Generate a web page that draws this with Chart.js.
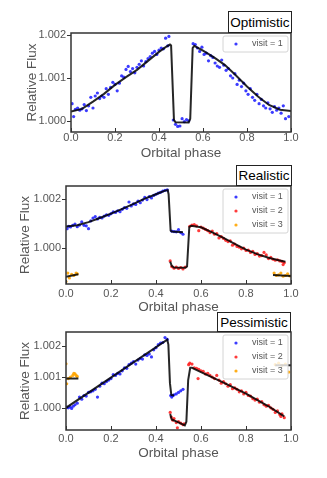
<!DOCTYPE html>
<html>
<head>
<meta charset="utf-8">
<script src="https://cdn.jsdelivr.net/npm/chart.js@4/dist/chart.umd.min.js"></script>
<style>
  body { margin: 0; background: #fff; }
  #wrap { position: relative; width: 327px; height: 478px; overflow: hidden; }
  canvas { position: absolute; left: 0; }
  .tag {
    position: absolute; box-sizing: border-box; border: 1px solid #222; background: #fff;
    font: 13.5px "Liberation Sans", Arial, sans-serif; color: #000;
    display: flex; align-items: center; justify-content: center; z-index: 2;
  }
</style>
</head>
<body>
<div id="wrap">
  <canvas id="opt" width="327" height="165" style="top:0px"></canvas>
  <canvas id="real" width="327" height="158" style="top:160px"></canvas>
  <canvas id="pess" width="327" height="160" style="top:310px"></canvas>
  <div class="tag" style="left:228px;top:11px;width:64px;height:22px">Optimistic</div>
  <div class="tag" style="left:236px;top:165px;width:56px;height:21px">Realistic</div>
  <div class="tag" style="left:217px;top:312px;width:74px;height:20px">Pessimistic</div>
</div>
<script>
const FONT = '"Liberation Sans", Arial, sans-serif';
const phaseTicks = [0, 0.2, 0.4, 0.6, 0.8, 1.0];
const optFluxTicks = [1.000, 1.001, 1.002];
const realFluxTicks = [1.000, 1.002];
const pessFluxTicks = [1.000, 1.001, 1.002];
const visitLabels = ['visit = 1', 'visit = 2', 'visit = 3'];

// Optimistic
const optPhase1 = [0.005,0.012,0.02,0.03,0.04,0.05,0.06,0.07,0.08,0.09,0.10,0.11,0.12,0.13,0.14,0.15,0.16,0.17,0.18,0.19,0.20,0.21,0.22,0.23,0.24,0.25,0.26,0.27,0.28,0.29,0.30,0.31,0.32,0.33,0.34,0.35,0.36,0.37,0.38,0.39,0.40,0.41,0.42,0.43,0.44,0.445,0.465,0.475,0.485,0.495,0.505,0.515,0.525,0.535,0.555,0.565,0.575,0.585,0.595,0.605,0.615,0.625,0.635,0.645,0.655,0.665,0.675,0.685,0.695,0.705,0.715,0.725,0.735,0.745,0.755,0.765,0.775,0.785,0.795,0.805,0.815,0.825,0.835,0.845,0.855,0.865,0.875,0.885,0.895,0.905,0.915,0.925,0.935,0.945,0.955,0.965,0.975,0.99];
const optFlux1 = [1.00040,1.00010,1.00027,1.00030,1.00025,1.00028,1.00038,1.00024,1.00035,1.00055,1.00030,1.00058,1.00065,1.00052,1.00058,1.00055,1.00075,1.00062,1.00078,1.00090,1.00085,1.00070,1.00088,1.00105,1.00102,1.00120,1.00127,1.00115,1.00122,1.00112,1.00125,1.00132,1.00140,1.00128,1.00138,1.00145,1.00150,1.00158,1.00162,1.00155,1.00165,1.00170,1.00168,1.00193,1.00175,1.00197,1.00002,0.99992,0.99987,0.99988,1.00005,0.99998,1.00003,1.00000,1.00180,1.00178,1.00170,1.00162,1.00172,1.00155,1.00158,1.00140,1.00152,1.00148,1.00135,1.00128,1.00125,1.00142,1.00130,1.00118,1.00122,1.00105,1.00100,1.00110,1.00085,1.00095,1.00080,1.00088,1.00070,1.00062,1.00075,1.00055,1.00048,1.00062,1.00040,1.00050,1.00035,1.00030,1.00042,1.00028,1.00020,1.00033,1.00025,1.00030,1.00018,1.00035,1.00005,1.00010];
const optModelPhase = [0,0.05,0.1,0.15,0.2,0.25,0.3,0.35,0.4,0.43,0.45,0.455,0.468,0.475,0.535,0.542,0.553,0.56,0.6,0.65,0.7,0.75,0.8,0.85,0.9,0.95,1.0];
const optModelFlux = [1.00022,1.00028,1.00045,1.00063,1.00084,1.00102,1.00119,1.00140,1.00161,1.00172,1.00178,1.00176,1.00002,0.99997,0.99996,1.00005,1.00170,1.00175,1.00164,1.00148,1.00130,1.00106,1.00080,1.00057,1.00037,1.00026,1.00023];

// Realistic
const realPhase1 = [0.005,0.012,0.02,0.03,0.04,0.05,0.06,0.07,0.08,0.09,0.10,0.11,0.12,0.13,0.14,0.15,0.16,0.17,0.18,0.19,0.20,0.21,0.22,0.23,0.24,0.25,0.26,0.27,0.28,0.29,0.30,0.31,0.32,0.33,0.34,0.35,0.36,0.37,0.38,0.39,0.40,0.41,0.42,0.43,0.44,0.45,0.47,0.48,0.49,0.50,0.51,0.52];
const realFlux1 = [1.00078,1.00088,1.00085,1.00092,1.00097,1.00086,1.00093,1.00106,1.00092,1.00090,1.00078,1.00110,1.00122,1.00128,1.00118,1.00125,1.00122,1.00130,1.00135,1.00133,1.00140,1.00147,1.00145,1.00152,1.00148,1.00158,1.00165,1.00162,1.00188,1.00172,1.00180,1.00178,1.00192,1.00185,1.00196,1.00207,1.00198,1.00210,1.00205,1.00215,1.00220,1.00225,1.00228,1.00233,1.00236,1.00238,1.00068,1.00066,1.00065,1.00074,1.00062,1.00055];
const realPhase2 = [0.463,0.47,0.48,0.49,0.50,0.51,0.52,0.53,0.55,0.56,0.57,0.58,0.59,0.60,0.61,0.62,0.63,0.64,0.65,0.66,0.67,0.68,0.69,0.70,0.71,0.72,0.73,0.74,0.75,0.76,0.77,0.78,0.79,0.80,0.81,0.82,0.83,0.84,0.85,0.86,0.87,0.88,0.89,0.90,0.91,0.92,0.93,0.94,0.95,0.96,0.965,0.97];
const realFlux2 = [0.99945,0.99922,0.99915,0.99920,0.99914,0.99918,0.99912,0.99920,1.00088,1.00093,1.00095,1.00090,1.00070,1.00085,1.00080,1.00075,1.00070,1.00062,1.00068,1.00055,1.00058,1.00040,1.00045,1.00038,1.00030,1.00025,1.00028,1.00010,1.00015,1.00005,1.00002,0.99995,0.99998,0.99988,0.99990,0.99980,0.99985,0.99972,0.99975,0.99965,0.99967,0.99980,0.99970,0.99955,0.99960,0.99952,0.99948,0.99950,0.99945,0.99943,0.99930,0.99938];
const realPhase3 = [0.0,0.008,0.015,0.025,0.035,0.045,0.05,0.925,0.935,0.945,0.955,0.965,0.975,0.985,0.995];
const realFlux3 = [0.99860,0.99895,0.99875,0.99890,0.99885,0.99895,0.99892,0.99895,0.99885,0.99888,0.99895,0.99882,0.99885,0.99892,0.99883];
const realModelPhase1 = [0,0.05,0.1,0.15,0.2,0.25,0.3,0.35,0.4,0.44,0.452,0.456,0.465,0.47,0.52];
const realModelFlux1 = [1.00087,1.00092,1.00105,1.00122,1.00140,1.00160,1.00180,1.00202,1.00220,1.00235,1.00237,1.00220,1.00070,1.00066,1.00063];
const realModelPhase2 = [0.463,0.47,0.48,0.53,0.538,0.548,0.556,0.6,0.65,0.7,0.75,0.8,0.85,0.9,0.95,0.975];
const realModelFlux2 = [0.99942,0.99925,0.99918,0.99917,0.99922,1.00085,1.00090,1.00084,1.00063,1.00040,1.00015,0.99992,0.99973,0.99958,0.99947,0.99942];
const realModelPhase3a = [0, 0.055];
const realModelFlux3a = [0.99880, 0.99890];
const realModelPhase3b = [0.92, 1.0];
const realModelFlux3b = [0.99887, 0.99883];

// Pessimistic
const pessPhase1 = [0.003,0.01,0.018,0.025,0.032,0.04,0.05,0.06,0.07,0.08,0.09,0.10,0.11,0.12,0.13,0.14,0.15,0.16,0.17,0.18,0.19,0.20,0.21,0.22,0.23,0.24,0.25,0.26,0.27,0.28,0.29,0.30,0.31,0.32,0.33,0.34,0.35,0.36,0.37,0.38,0.39,0.40,0.41,0.42,0.43,0.44,0.45,0.465,0.47,0.475,0.48,0.49,0.50,0.51,0.52];
const pessFlux1 = [1.00002,1.00000,1.00003,0.99998,1.00005,1.00010,1.00015,1.00035,1.00028,1.00040,1.00038,1.00050,1.00052,1.00055,1.00060,1.00035,1.00070,1.00080,1.00078,1.00085,1.00090,1.00095,1.00108,1.00105,1.00112,1.00110,1.00120,1.00130,1.00128,1.00140,1.00145,1.00150,1.00142,1.00155,1.00160,1.00158,1.00172,1.00170,1.00175,1.00165,1.00188,1.00195,1.00205,1.00210,1.00212,1.00228,1.00222,1.00040,1.00035,1.00040,1.00042,1.00045,1.00050,1.00055,1.00060];
const pessPhase2 = [0.463,0.468,0.475,0.48,0.49,0.495,0.50,0.51,0.52,0.525,0.545,0.55,0.56,0.57,0.58,0.587,0.59,0.60,0.61,0.62,0.63,0.64,0.65,0.66,0.67,0.68,0.69,0.70,0.71,0.72,0.73,0.74,0.75,0.76,0.77,0.78,0.79,0.80,0.81,0.82,0.83,0.84,0.85,0.86,0.87,0.88,0.89,0.90,0.91,0.92,0.93,0.94,0.95,0.955,0.96,0.97];
const pessFlux2 = [0.99985,0.99970,0.99960,0.99965,0.99952,0.99935,0.99955,0.99950,0.99945,0.99948,1.00140,1.00145,1.00142,1.00130,1.00128,1.00095,1.00125,1.00120,1.00118,1.00110,1.00112,1.00105,1.00100,1.00095,1.00105,1.00090,1.00080,1.00085,1.00078,1.00070,1.00075,1.00062,1.00065,1.00060,1.00052,1.00055,1.00045,1.00050,1.00040,1.00038,1.00030,1.00025,1.00028,1.00018,1.00020,1.00010,1.00005,1.00008,1.00000,0.99995,0.99985,0.99990,0.99978,0.99972,0.99980,0.99968];
const pessPhase3 = [0.0,0.003,0.01,0.02,0.03,0.035,0.04,0.045,0.05,0.93,0.945,0.96,0.975,0.99];
const pessFlux3 = [1.00143,1.00078,1.00095,1.00100,1.00105,1.00112,1.00110,1.00105,1.00102,1.00140,1.00145,1.00138,1.00142,1.00116];
const pessModelPhase1 = [0,0.45,0.455,0.462,0.468,0.48];
const pessModelFlux1 = [1.00000,1.00221,1.00205,1.00080,1.00042,1.00040];
const pessModelPhase2 = [0.463,0.47,0.50,0.528,0.535,0.543,0.552,0.56,0.6,0.7,0.8,0.9,0.97];
const pessModelFlux2 = [0.99980,0.99962,0.99953,0.99943,0.99955,1.00090,1.00130,1.00130,1.00116,1.00082,1.00046,1.00005,0.99972];
const pessModelPhase3a = [0, 0.055];
const pessModelFlux3a = [1.00095, 1.00095];
const pessModelPhase3b = [0.93, 1.0];
const pessModelFlux3b = [1.00138, 1.00138];

const colors = ['rgba(25,25,255,0.85)', 'rgba(255,25,25,0.85)', 'rgba(255,165,0,0.9)'];

const pts = (xs, ys) => xs.map((x, i) => ({ x, y: ys[i] }));

const visit = (i, xs, ys) => ({
  label: visitLabels[i], data: pts(xs, ys), order: 1,
  backgroundColor: colors[i], borderWidth: 0, pointRadius: 1.6
});
const model = (xs, ys) => ({
  data: pts(xs, ys), order: 0, showLine: true, pointRadius: 0,
  borderColor: 'rgba(0,0,0,0.85)', borderWidth: 2, tension: 0
});

// frame, tick marks and the floating legend
const framePlugin = {
  id: 'frame',
  afterDraw(chart) {
    const { ctx, chartArea: a, scales: { x, y } } = chart;
    ctx.save();
    const items = chart.data.datasets.filter(d => d.label);
    const w = 65, h = items.length * 14 + 2;
    const lx = a.right - 3 - w, ly = a.top + 3;
    ctx.beginPath();
    if (ctx.roundRect) ctx.roundRect(lx, ly, w, h, 2); else ctx.rect(lx, ly, w, h);
    ctx.fillStyle = 'rgba(255,255,255,0.8)';
    ctx.fill();
    ctx.strokeStyle = '#d4d4d4';
    ctx.lineWidth = 1;
    ctx.stroke();
    ctx.font = '9px ' + FONT;
    ctx.textBaseline = 'middle';
    ctx.textAlign = 'left';
    items.forEach((d, i) => {
      const cy = ly + 8 + i * 14;
      ctx.beginPath();
      ctx.arc(lx + 13, cy, 1.6, 0, Math.PI * 2);
      ctx.fillStyle = d.backgroundColor;
      ctx.fill();
      ctx.fillStyle = '#555';
      ctx.fillText(d.label, lx + 29, cy);
    });

    ctx.strokeStyle = '#333';
    ctx.lineWidth = 1.5;
    ctx.strokeRect(a.left, a.top, a.right - a.left, a.bottom - a.top);
    ctx.lineWidth = 1;
    ctx.beginPath();
    x.ticks.forEach(t => {
      const px = Math.round(x.getPixelForValue(t.value)) + 0.5;
      ctx.moveTo(px, a.bottom);
      ctx.lineTo(px, a.bottom - 4);
    });
    y.ticks.forEach(t => {
      const py = Math.round(y.getPixelForValue(t.value)) + 0.5;
      ctx.moveTo(a.left, py);
      ctx.lineTo(a.left - 4, py);
    });
    ctx.stroke();
    ctx.restore();
  }
};

function makePanel(id, p) {
  return new Chart(document.getElementById(id), {
    type: 'scatter',
    data: { datasets: p.datasets },
    plugins: [framePlugin],
    options: {
      responsive: false,
      animation: false,
      layout: { padding: { top: p.top, right: 36, left: 0, bottom: 0 } },
      plugins: { legend: { display: false }, tooltip: { enabled: false } },
      scales: {
        x: {
          type: 'linear', min: 0, max: 1,
          afterBuildTicks: s => { s.ticks = phaseTicks.map(v => ({ value: v })); },
          afterFit: s => { s.height = p.xHeight; },
          grid: { display: false, drawTicks: false },
          border: { display: false },
          ticks: { padding: p.xPad, color: '#555', font: { size: 11, family: FONT, lineHeight: 1 }, callback: v => v.toFixed(1) },
          title: { display: true, text: 'Orbital phase', color: '#555', font: { size: 13.5, family: FONT }, padding: { top: 0, bottom: p.xTitlePad } }
        },
        y: {
          type: 'linear', min: p.yMin, max: p.yMax,
          afterBuildTicks: s => { s.ticks = p.yTicks.map(v => ({ value: v })); },
          afterFit: s => { s.width = p.yWidth; },
          grid: { display: false, drawTicks: false },
          border: { display: false },
          ticks: { padding: 5, color: '#555', font: { size: 11, family: FONT }, callback: v => v.toFixed(3) },
          title: { display: true, text: 'Relative Flux', color: '#555', font: { size: 13.5, family: FONT }, padding: { top: p.yTitlePad, bottom: 0 } }
        }
      }
    }
  });
}

makePanel('opt', {
  top: 33, xHeight: 33, yWidth: 71, xPad: 0, xTitlePad: 4, yTitlePad: 24,
  yMin: 0.99974, yMax: 1.00205, yTicks: optFluxTicks,
  datasets: [
    model(optModelPhase, optModelFlux),
    visit(0, optPhase1, optFlux1)
  ]
});

makePanel('real', {
  top: 26, xHeight: 34, yWidth: 66, xPad: 4, xTitlePad: 3, yTitlePad: 17,
  yMin: 0.99850, yMax: 1.00254, yTicks: realFluxTicks,
  datasets: [
    model(realModelPhase1, realModelFlux1),
    model(realModelPhase2, realModelFlux2),
    model(realModelPhase3a, realModelFlux3a),
    model(realModelPhase3b, realModelFlux3b),
    visit(0, realPhase1, realFlux1),
    visit(1, realPhase2, realFlux2),
    visit(2, realPhase3, realFlux3)
  ]
});

makePanel('pess', {
  top: 22, xHeight: 40, yWidth: 66, xPad: 3, xTitlePad: 9, yTitlePad: 17,
  yMin: 0.99928, yMax: 1.00246, yTicks: pessFluxTicks,
  datasets: [
    model(pessModelPhase1, pessModelFlux1),
    model(pessModelPhase2, pessModelFlux2),
    model(pessModelPhase3a, pessModelFlux3a),
    model(pessModelPhase3b, pessModelFlux3b),
    visit(0, pessPhase1, pessFlux1),
    visit(1, pessPhase2, pessFlux2),
    visit(2, pessPhase3, pessFlux3)
  ]
});
</script>
</body>
</html>
